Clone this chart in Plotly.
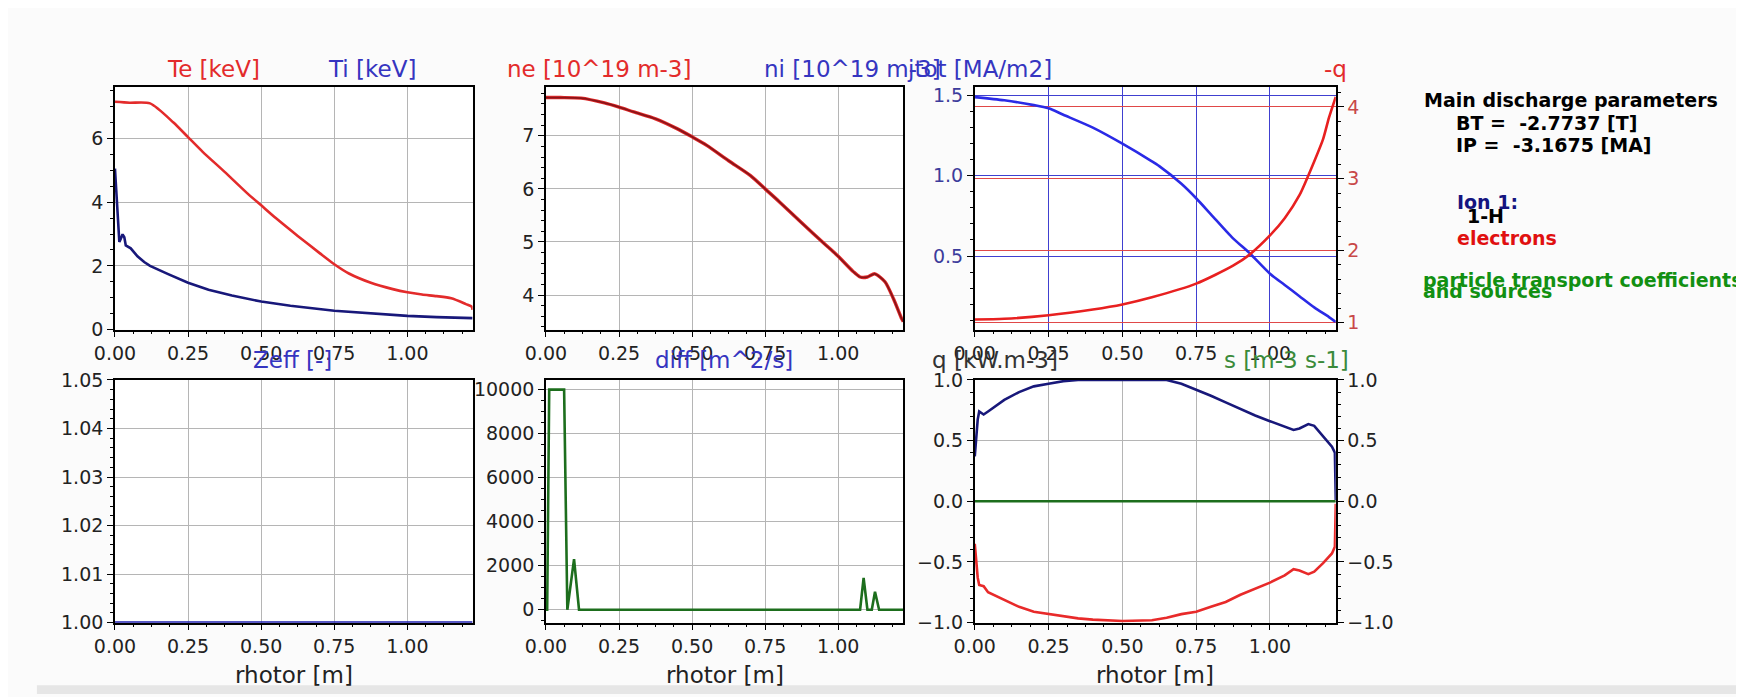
import plotly.graph_objects as go

# ---------------- data ----------------
x_te = [0, 0.05, 0.12, 0.2, 0.25, 0.3, 0.375, 0.45, 0.5, 0.55, 0.625, 0.7, 0.75, 0.8,
        0.875, 0.95, 1.0, 1.05, 1.1, 1.15, 1.2, 1.22, 1.223]
te = [7.15, 7.12, 7.1, 6.5, 6.04, 5.58, 4.95, 4.3, 3.9, 3.5, 2.94, 2.4, 2.05, 1.76,
      1.47, 1.27, 1.17, 1.1, 1.05, 0.98, 0.8, 0.72, 0.62]

x_ti = [0, 0.004, 0.01, 0.015, 0.02, 0.026, 0.032, 0.037, 0.054, 0.077, 0.1, 0.12, 0.18,
        0.25, 0.32, 0.4, 0.5, 0.6, 0.75, 0.9, 1.0, 1.1, 1.223]
ti = [5.05, 4.4, 3.2, 2.75, 2.85, 2.99, 2.9, 2.64, 2.55, 2.3, 2.12, 2.0, 1.75,
      1.47, 1.25, 1.07, 0.88, 0.75, 0.59, 0.49, 0.43, 0.39, 0.36]

x_ne = [0, 0.05, 0.12, 0.2, 0.25, 0.3, 0.375, 0.45, 0.5, 0.55, 0.625, 0.7, 0.75, 0.8,
        0.875, 0.95, 1.0, 1.05, 1.075, 1.1, 1.125, 1.16, 1.19, 1.216, 1.223]
ne = [7.72, 7.72, 7.71, 7.62, 7.54, 7.45, 7.32, 7.13, 6.98, 6.82, 6.53, 6.25, 6.0, 5.75,
      5.36, 4.98, 4.73, 4.45, 4.34, 4.34, 4.40, 4.25, 3.92, 3.57, 3.5]
ni = [7.72, 7.72, 7.71, 7.62, 7.54, 7.45, 7.32, 7.13, 6.98, 6.82, 6.53, 6.25, 6.0, 5.75,
      5.36, 4.98, 4.73, 4.45, 4.34, 4.34, 4.40, 4.25, 3.92, 3.57, 3.5]

x_j = [0, 0.1, 0.2, 0.25, 0.3, 0.4, 0.5, 0.6, 0.625, 0.7, 0.75, 0.8, 0.875, 0.93, 1.0,
       1.05, 1.1, 1.15, 1.2, 1.223]
jtot = [1.49, 1.47, 1.44, 1.42, 1.38, 1.30, 1.20, 1.09, 1.06, 0.95, 0.86, 0.76, 0.61,
        0.52, 0.39, 0.32, 0.25, 0.18, 0.12, 0.09]

x_q = [0, 0.1, 0.25, 0.4, 0.5, 0.6, 0.75, 0.875, 0.93, 1.0, 1.05, 1.1, 1.15, 1.18, 1.2, 1.223]
minus_q = [1.04, 1.05, 1.10, 1.18, 1.25, 1.35, 1.54, 1.79, 1.94, 2.21, 2.45, 2.77, 3.24,
           3.55, 3.85, 4.14]

x_zeff = [0, 1.223]
zeff = [1.0, 1.0]

x_diff = [0, 0.004, 0.011, 0.062, 0.073, 0.096, 0.113, 1.075, 1.087, 1.10, 1.115, 1.126,
          1.14, 1.223]
diff = [0, 0, 10000, 10000, 0, 2300, 0, 0, 1450, 0, 0, 820, 0, 0]

x_qs = [0, 0.01, 0.015, 0.03, 0.045, 0.1, 0.15, 0.2, 0.25, 0.3, 0.35, 0.4, 0.5, 0.6, 0.65,
        0.7, 0.75, 0.8, 0.85, 0.9, 0.95, 1.0, 1.05, 1.08, 1.1, 1.13, 1.15, 1.18, 1.21,
        1.22, 1.223]
q_ion = [0.37, 0.675, 0.74, 0.715, 0.74, 0.835, 0.9, 0.947, 0.968, 0.99, 1.0, 1.0, 1.0,
         1.0, 1.0, 0.968, 0.92, 0.87, 0.815, 0.76, 0.707, 0.66, 0.617, 0.588, 0.60, 0.636,
         0.622, 0.54, 0.45, 0.40, 0.01]
q_el = [-0.35, -0.63, -0.69, -0.70, -0.75, -0.81, -0.87, -0.91, -0.93, -0.95, -0.965,
        -0.975, -0.987, -0.98, -0.96, -0.93, -0.91, -0.87, -0.83, -0.77, -0.72, -0.67,
        -0.61, -0.56, -0.57, -0.60, -0.58, -0.51, -0.43, -0.375, -0.02]
x_s = [0, 1.223]
s_src = [0, 0]

info_lines = ["Main discharge parameters", "BT =&nbsp; -2.7737 [T]", "IP =&nbsp; -3.1675 [MA]"]

# ---------------- styling helpers ----------------
W, H = 1744, 697
FONT = "DejaVu Sans"
RED = "#e32b2b"
BLUE = "#3535c0"
NAVY = "#18187a"
GREEN = "#1d6e1d"


def px(x):
    return x / W


def py(y):
    return 1 - y / H


cols = [(87, 449), (523.3, 885), (957.3, 1322.7)]
rows = [(70.7, 320.7), (372.7, 623.3)]


def xdom(c):
    return [px(cols[c][0]), px(cols[c][1])]


def ydom(r):
    return [py(rows[r][1]), py(rows[r][0])]


tickfont = dict(family=FONT, size=19, color="#222222")


def xax(c, r, anchor, gridcolor="#b5b5b5"):
    return dict(domain=xdom(c), anchor=anchor, range=[0, 1.223], tick0=0, dtick=0.25,
                tickformat=".2f", ticks="outside", ticklen=6, tickwidth=1.2,
                tickcolor="black", showline=True, linecolor="black", linewidth=1.6,
                mirror=True, showgrid=True, gridcolor=gridcolor, gridwidth=1,
                zeroline=False, tickfont=tickfont,
                minor=dict(dtick=0.0625, ticks="outside", ticklen=3, tickcolor="black",
                           showgrid=False))


def yax(r, anchor, rng, dtick, minor, fmt="", gridcolor="#b5b5b5", font=None, side="left",
        overlaying=None, showgrid=True, mirror=True, tick0=0):
    d = dict(domain=ydom(r), anchor=anchor, range=rng, tick0=tick0, dtick=dtick,
             tickformat=fmt, ticks="outside", ticklen=6, tickwidth=1.2, tickcolor="black",
             showline=True, linecolor="black", linewidth=1.6, mirror=mirror,
             showgrid=showgrid, gridcolor=gridcolor, gridwidth=1, zeroline=False,
             tickfont=font or tickfont, side=side,
             minor=dict(dtick=minor, ticks="outside", ticklen=3, tickcolor="black",
                        showgrid=False))
    if overlaying:
        d["overlaying"] = overlaying
    return d


fig = go.Figure()


def line(x, y, xa, ya, color, width=2.6, smooth=False):
    ld = dict(color=color, width=width)
    if smooth:
        ld.update(shape="spline", smoothing=0.7)
    fig.add_trace(go.Scatter(x=x, y=y, xaxis=xa, yaxis=ya, mode="lines", line=ld,
                             showlegend=False, hoverinfo="skip"))


# panel 1
line(x_te, te, "x", "y", RED, smooth=True)
line(x_ti, ti, "x", "y", NAVY)
# panel 2
line(x_ne, ne, "x2", "y2", RED, 3.4, smooth=True)
line(x_ne, ni, "x2", "y2", "#8a1418", 1.7, smooth=True)
# panel 3
line(x_j, jtot, "x3", "y3", "#2a2ae6", smooth=True)
line(x_q, minus_q, "x3", "y4", "#e82020", smooth=True)
# panel 4
line(x_zeff, zeff, "x5", "y5", "#2020b0", 3)
# panel 5
line(x_diff, diff, "x6", "y6", GREEN)
# panel 6
line(x_qs, q_ion, "x7", "y7", NAVY)
line(x_qs, q_el, "x7", "y7", "#e82a2a")
line(x_s, s_src, "x7", "y8", GREEN)

layout = dict(
    width=W, height=H, autosize=False, margin=dict(l=0, r=0, t=0, b=0, pad=0),
    paper_bgcolor="#fbfbfb", plot_bgcolor="white", showlegend=False,
    xaxis=xax(0, 0, "y"),
    yaxis=yax(0, "x", [0, 7.6], 2, 0.5),
    xaxis2=xax(1, 0, "y2"),
    yaxis2=yax(0, "x2", [3.35, 7.91], 1, 0.2),
    xaxis3=xax(2, 0, "y3", gridcolor="#4040d0"),
    yaxis3=yax(0, "x3", [0.042, 1.55], 0.5, 0.1, fmt=".1f", gridcolor="#4040d0",
               font=dict(family=FONT, size=19, color="#3c3c9c"), mirror=False),
    yaxis4=yax(0, "x3", [0.9, 4.27], 1, 0.2, gridcolor="#e04848",
               font=dict(family=FONT, size=19, color="#c84848"), side="right",
               overlaying="y3", mirror=False),
    xaxis5=xax(0, 1, "y5"),
    yaxis5=yax(1, "x5", [1.0, 1.05], 0.01, 0.002, fmt=".2f", tick0=1.0),
    xaxis6=xax(1, 1, "y6"),
    yaxis6=yax(1, "x6", [-585, 10440], 2000, 500, fmt="d"),
    xaxis7=xax(2, 1, "y7"),
    yaxis7=yax(1, "x7", [-1, 1], 0.5, 0.1, fmt=".1f", mirror=False),
    yaxis8=yax(1, "x7", [-1, 1], 0.5, 0.1, fmt=".1f", side="right", overlaying="y7",
               showgrid=False, mirror=False),
)
fig.update_layout(**layout)

ann = []


def text(t, x, y, color, size=23, anchor="center", bold=False):
    ann.append(dict(text=(f"<b>{t}</b>" if bold else t), x=px(x), y=py(y), xref="paper",
                    yref="paper", xanchor=anchor, yanchor="middle", showarrow=False,
                    font=dict(family=FONT, size=size, color=color)))


# panel titles
text("Te [keV]", 187, 52, RED)
text("Ti [keV]", 347, 52, BLUE)
text("ne [10^19 m-3]", 577, 52, RED)
text("ni [10^19 m-3]", 742, 52, BLUE, anchor="left")
text("jtot [MA/m2]", 1037, 52, BLUE, anchor="right")
text("-q", 1336, 52, RED, anchor="right")
text("Zeff [-]", 267, 352, BLUE)
text("diff [m^2/s]", 703, 352, BLUE)
text("q [kW.m-3]", 912, 352, "#333333", anchor="left")
text("s [m-3 s-1]", 1338, 352, "#3a8a3a", anchor="right")
for c in range(3):
    text("rhotor [m]", (cols[c][0] + cols[c][1]) / 2, 677, "#222222")

# right side info block
text(info_lines[0], 1410, 84, "black", size=19, anchor="left", bold=True)
text(info_lines[1], 1442, 107, "black", size=19, anchor="left", bold=True)
text(info_lines[2], 1442, 130, "black", size=19, anchor="left", bold=True)
text("Ion 1:", 1443, 189, "#141480", size=19, anchor="left", bold=True)
text("1-H", 1453, 203, "black", size=19, anchor="left", bold=True)
text("electrons", 1443, 226, "#e01010", size=19, anchor="left", bold=True)
text("particle transport coefficients", 1409, 269, "#129012", size=19, anchor="left", bold=True)
text("and sources", 1409, 281, "#129012", size=19, anchor="left", bold=True)

fig.update_layout(annotations=ann)

fig.add_shape(type="rect", xref="paper", yref="paper", x0=px(8), x1=1, y0=0, y1=py(688),
              fillcolor="#e6e6e6", line=dict(width=0), layer="below")

fig.write_html("out.html")
